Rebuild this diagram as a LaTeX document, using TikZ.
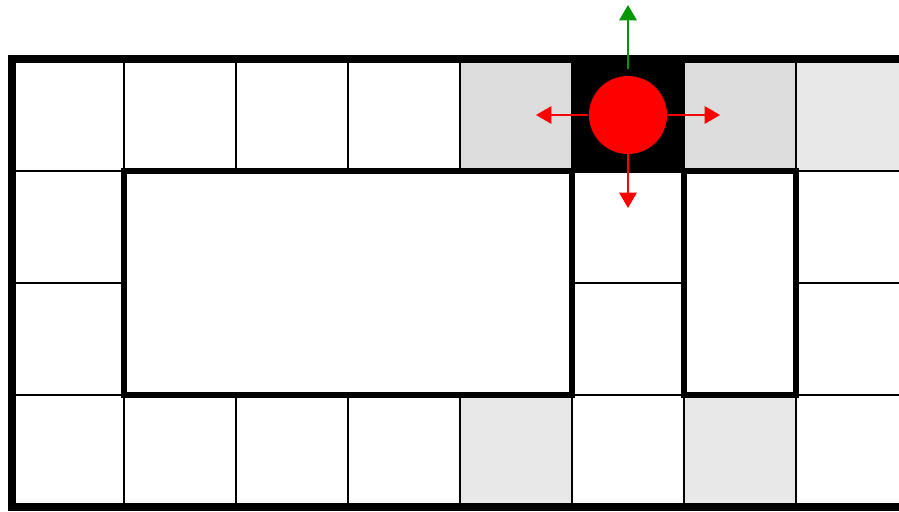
\documentclass[tikz,border=0pt]{standalone}
\usetikzlibrary{arrows.meta}
\definecolor{greyA}{HTML}{DCDCDC}
\definecolor{greyB}{HTML}{E8E8E8}
\definecolor{arrowgreen}{RGB}{0,150,0}
\tikzset{
  gridline/.style={line width=1.6pt, black},
  wallline/.style={line width=5.1pt, black},
  outerline/.style={line width=6pt, black},
  moveline/.style={line width=1.5pt, -{Triangle[length=11.5pt,width=13pt]}},
  agentdot/.style={circle, fill=red, draw=none, minimum size=58.5pt, inner sep=0pt}
}
\begin{document}
\begin{tikzpicture}[x=0.75pt,y=-0.75pt]
\useasboundingbox (0,0) rectangle (899,511);
\clip (0,0) rectangle (899,511);
% shaded cells
\fill[greyA] (460,59) rectangle (572,171);
\fill[greyA] (684,59) rectangle (796,171);
\fill[greyB] (796,59) rectangle (908,171);
\fill[greyB] (460,395) rectangle (572,507);
\fill[greyB] (684,395) rectangle (796,507);
% grid
\foreach \gx in {124,236,348,460,572,684,796} \draw[gridline] (\gx,59) -- (\gx,507);
\foreach \gy in {171,283,395} \draw[gridline] (12,\gy) -- (908,\gy);
% walls
\fill[white] (124,171) rectangle (572,395);
\fill[white] (684,171) rectangle (796,395);
\draw[wallline] (124,171) rectangle (572,395);
\draw[wallline] (684,171) rectangle (796,395);
% current cell
\fill[black] (571,57) rectangle (685,173);
% outer border
\draw[outerline] (12,59) rectangle (908,507);
% agent
\node[agentdot] (agent) at (628,115) {};
\coordinate (leftT) at (536,115);
\coordinate (rightT) at (720,115);
\coordinate (downT) at (628,208);
\coordinate (upS) at (628,69);
\coordinate (upT) at (628,5);
\draw[moveline, red] (agent.west) ++(-1,0) -- (leftT);
\draw[moveline, red] (agent.east) ++(1,0) -- (rightT);
\draw[moveline, red] (agent.south) -- (downT);
\draw[moveline, arrowgreen] (upS) -- (upT);
\end{tikzpicture}
\end{document}
